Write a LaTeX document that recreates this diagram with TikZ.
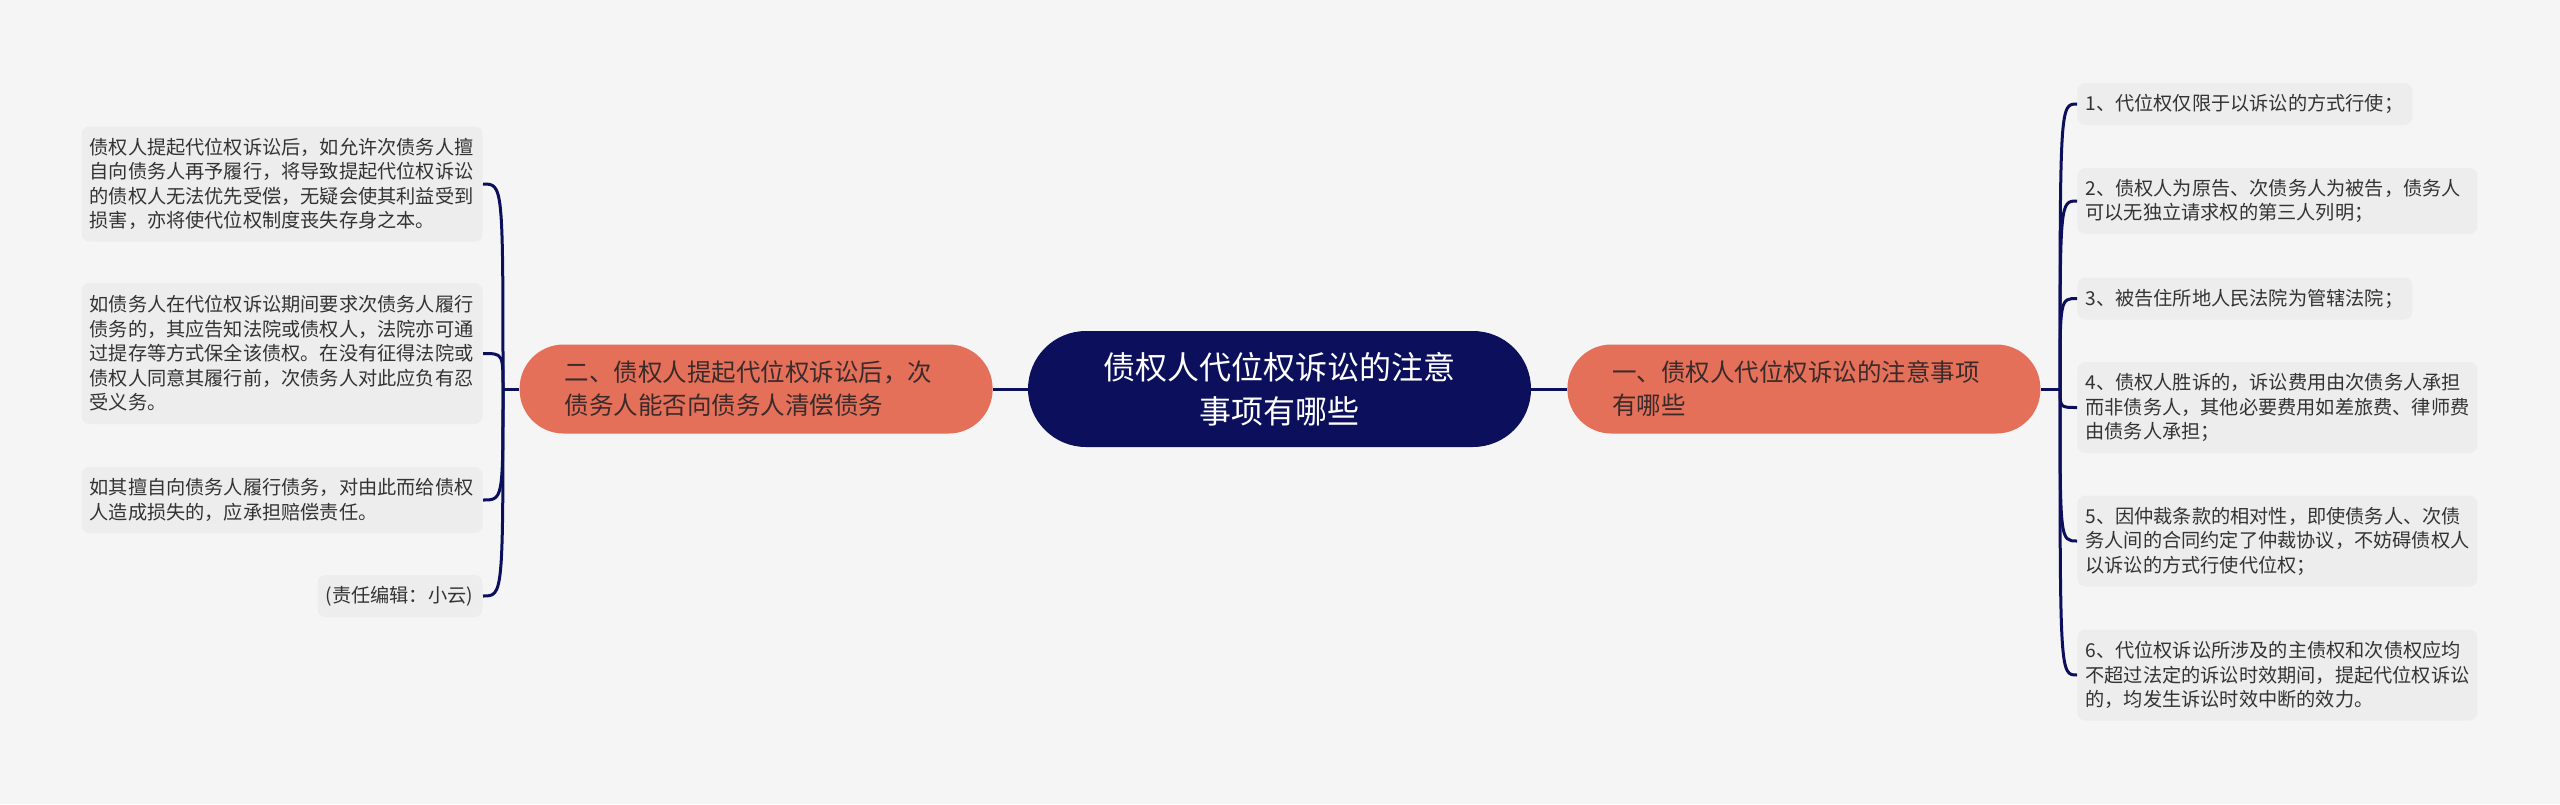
\documentclass[tikz,border=0pt]{standalone}
\usepackage{fontspec}
\setmainfont{Noto Sans CJK SC}
\usetikzlibrary{calc}
\definecolor{bg}{HTML}{F5F5F5}
\definecolor{navy}{HTML}{0B0F5C}
\definecolor{salmon}{HTML}{E4705A}
\definecolor{leafbg}{HTML}{EDEDED}
\definecolor{leaftext}{HTML}{333333}
\definecolor{branchtext}{HTML}{3A2A2A}
\begin{document}
\begin{tikzpicture}[x=0.5pt,y=-0.5pt,
  centernode/.style={fill=navy, text=white, rounded corners=29pt, minimum width=251.5pt, minimum height=58pt, align=center, inner sep=0pt, font=\fontsize{16pt}{22pt}\selectfont},
  branchnode/.style={fill=salmon, text=branchtext, rounded corners=22pt, text width=191.5pt, inner xsep=22.5pt, inner ysep=0pt, minimum height=44.5pt, align=left, font=\fontsize{12.25pt}{16.5pt}\selectfont},
  leafnode/.style={fill=leafbg, text=leaftext, rounded corners=4pt, inner xsep=4pt, inner ysep=0pt, align=left, font=\fontsize{9.6pt}{12.25pt}\selectfont},
  link/.style={draw=navy, line width=1.5pt},
]
\fill[bg] (0,0) rectangle (2560,804);
\useasboundingbox (0,0) rectangle (2560,804);

% centre and branches
\node[centernode] (c) at (1279.5,389) {债权人代位权诉讼的注意\\事项有哪些};
\node[branchnode, anchor=west] (b1) at (1567,389) {一、债权人代位权诉讼的注意事项\\有哪些};
\node[branchnode, anchor=east] (b2) at (993,389) {二、债权人提起代位权诉讼后，次\\债务人能否向债务人清偿债务};

% right leaves
\node[leafnode, anchor=west, text width=159.5pt, minimum height=21pt] (r1) at (2077,104) {1、代位权仅限于以诉讼的方式行使；};
\node[leafnode, anchor=west, text width=192pt, minimum height=33pt] (r2) at (2077,201) {2、债权人为原告、次债务人为被告，债务人\\可以无独立请求权的第三人列明；};
\node[leafnode, anchor=west, text width=159.5pt, minimum height=21pt] (r3) at (2077,298.5) {3、被告住所地人民法院为管辖法院；};
\node[leafnode, anchor=west, text width=192pt, minimum height=45.5pt] (r4) at (2077,407.5) {4、债权人胜诉的，诉讼费用由次债务人承担\\而非债务人，其他必要费用如差旅费、律师费\\由债务人承担；};
\node[leafnode, anchor=west, text width=192pt, minimum height=45.5pt] (r5) at (2077,541) {5、因仲裁条款的相对性，即使债务人、次债\\务人间的合同约定了仲裁协议，不妨碍债权人\\以诉讼的方式行使代位权；};
\node[leafnode, anchor=west, text width=192pt, minimum height=45.5pt] (r6) at (2077,675) {6、代位权诉讼所涉及的主债权和次债权应均\\不超过法定的诉讼时效期间，提起代位权诉讼\\的，均发生诉讼时效中断的效力。};

% left leaves
\node[leafnode, anchor=east, text width=192.5pt, minimum height=57.5pt] (l1) at (483,184) {债权人提起代位权诉讼后，如允许次债务人擅\\自向债务人再予履行，将导致提起代位权诉讼\\的债权人无法优先受偿，无疑会使其利益受到\\损害，亦将使代位权制度丧失存身之本。};
\node[leafnode, anchor=east, text width=192.5pt, minimum height=70.5pt] (l2) at (483,353.5) {如债务人在代位权诉讼期间要求次债务人履行\\债务的，其应告知法院或债权人，法院亦可通\\过提存等方式保全该债权。在没有征得法院或\\债权人同意其履行前，次债务人对此应负有忍\\受义务。};
\node[leafnode, anchor=east, text width=192.5pt, minimum height=33pt] (l3) at (483,500) {如其擅自向债务人履行债务，对由此而给债权\\人造成损失的，应承担赔偿责任。};
\node[leafnode, anchor=east, text width=74.5pt, minimum height=21pt] (l4) at (483,596) {(责任编辑：小云)};

% connectors
\coordinate (jR) at (2060,389);
\coordinate (jL) at (503,389);
\draw[link] (c.east) -- (b1.west);
\draw[link] (c.west) -- (b2.east);
\draw[link] (b1.east) -- (jR);
\draw[link] (b2.west) -- (jL);
\foreach \n in {r1,r2,r3,r4,r5,r6}
  \draw[link] (jR) .. controls (jR |- \n.west) .. (\n.west);
\foreach \n in {l1,l2,l3,l4}
  \draw[link] (jL) .. controls (jL |- \n.east) .. (\n.east);
\end{tikzpicture}
\end{document}
